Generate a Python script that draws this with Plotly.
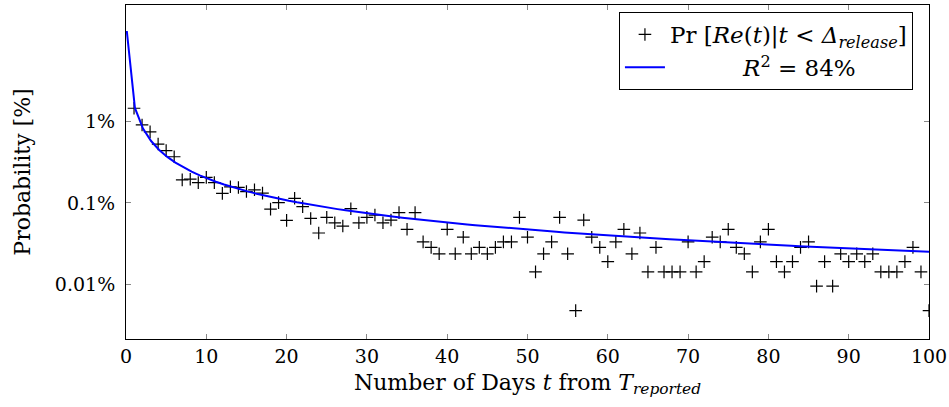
import numpy as np
import plotly.graph_objects as go

# Observed probability (%) by day
days = list(range(1, 101))
prob = [
    1.46, 0.91, 0.75, 0.53, 0.44, 0.37, 0.192, 0.196, 0.178, 0.206,
    0.178, 0.131, 0.158, 0.155, 0.138, 0.145, 0.132, 0.084, 0.101, 0.061,
    0.114, 0.090, 0.0645, 0.0427, 0.0664, 0.057, 0.052, 0.085, 0.057, 0.0664,
    0.071, 0.057, 0.0616, 0.076, 0.0474, 0.076, 0.0332, 0.0284, 0.0237, 0.0474,
    0.0237, 0.0379, 0.0237, 0.0284, 0.0237, 0.0284, 0.0332, 0.0332, 0.0664, 0.0379,
    0.0142, 0.0237, 0.0332, 0.0664, 0.0237, 0.00474, 0.0616, 0.0379, 0.0284, 0.0190,
    0.0332, 0.0474, 0.0237, 0.0427, 0.0142, 0.0284, 0.0142, 0.0142, 0.0142, 0.0332,
    0.0142, 0.0190, 0.0379, 0.0332, 0.0474, 0.0284, 0.0237, 0.0142, 0.0332, 0.0474,
    0.0190, 0.0142, 0.0190, 0.0284, 0.0332, 0.00948, 0.0190, 0.00948, 0.0237, 0.0190,
    0.0237, 0.0190, 0.0237, 0.0142, 0.0142, 0.0142, 0.0190, 0.0284, 0.0142, 0.00474,
]

# Power-law fit parameters (y = A * t^B, in %)
fit_A = 1.62
fit_B = -0.905
fit_t = np.linspace(0.1, 100, 100)
fit_y = fit_A * fit_t ** fit_B

ytick_vals = [0.01, 0.1, 1]
ytick_text = ["0.01%", "0.1%", "1%"]
xtick_vals = [0, 10, 20, 30, 40, 50, 60, 70, 80, 90, 100]

FONT = "DejaVu Serif"

fig = go.Figure()
fig.add_trace(go.Scatter(
    x=days, y=prob, mode="markers",
    name="Pr [<i>Re</i>(<i>t</i>)|<i>t</i> < <i>Δ</i><sub><i>release</i></sub>]",
    marker=dict(symbol="cross-thin", size=9, line=dict(width=1.2, color="black"), color="black"),
))
fig.add_trace(go.Scatter(
    x=fit_t, y=fit_y, mode="lines",
    name="\u00a0" * 10 + "<i>R</i><sup>2</sup> = 84%",
    line=dict(color="#0000ff", width=2),
))

fig.update_layout(
    width=949, height=407,
    margin=dict(l=126, r=20, t=5, b=68, autoexpand=False),
    paper_bgcolor="white", plot_bgcolor="white",
    font=dict(family=FONT, size=18, color="black"),
    showlegend=True,
    legend=dict(
        x=0.980, y=0.979, xanchor="right", yanchor="top",
        bordercolor="black", borderwidth=1, bgcolor="white",
        font=dict(family=FONT, size=23, color="black"),
        tracegroupgap=0, itemwidth=40,
    ),
    xaxis=dict(
        range=[0, 100], tickvals=xtick_vals, automargin=False,
        showline=True, linecolor="black", linewidth=1, mirror="ticks",
        ticks="inside", ticklen=5, tickcolor="#888888",
        showgrid=False, zeroline=False,
        tickfont=dict(family=FONT, size=19, color="black"),
        title=dict(text="Number of Days <i>t</i> from <i>T</i><sub><i>reported</i></sub>", standoff=8),
    ),
    yaxis=dict(
        type="log", range=[-2.673, 1.434], automargin=False,
        tickvals=ytick_vals, ticktext=ytick_text,
        showline=True, linecolor="black", linewidth=1, mirror="ticks",
        ticks="inside", ticklen=5, tickcolor="#888888",
        showgrid=False, zeroline=False, ticklabelstandoff=6,
        tickfont=dict(family=FONT, size=19, color="black"),
        title=dict(text="Probability [%]", standoff=18),
    ),
)

fig.write_html(
    "out.html",
    config={"displayModeBar": False},
    post_script="document.body.style.margin='0';document.body.style.overflow='hidden';",
)
